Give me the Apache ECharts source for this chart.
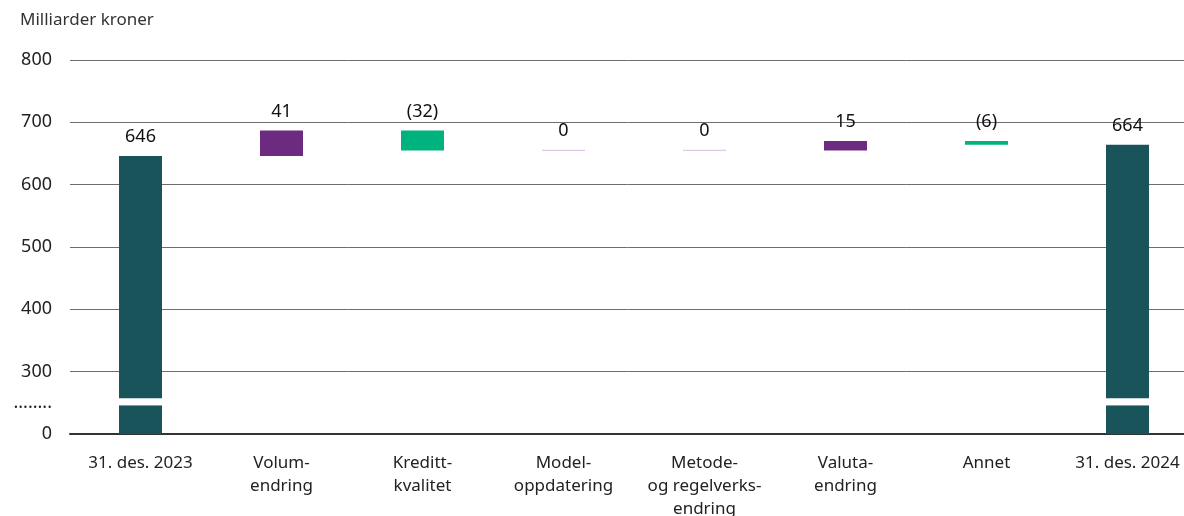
<!DOCTYPE html>
<html>
<head>
<meta charset="utf-8">
<script src="https://cdn.jsdelivr.net/npm/echarts@6/dist/echarts.min.js"></script>
<style>
  html, body { margin: 0; padding: 0; background: #fff; overflow: hidden; }
  #chart { width: 1184px; height: 516px; }
</style>
</head>
<body>
<div id="chart"></div>
<script>
// Waterfall: change in loan-loss basis (milliarder kroner)
const categories = [
  '31. des. 2023',
  'Volum-\nendring',
  'Kreditt-\nkvalitet',
  'Model-\noppdatering',
  'Metode-\nog regelverks-\nendring',
  'Valuta-\nendring',
  'Annet',
  '31. des. 2024'
];
const values = [646, 41, -32, 0, 0, 15, -6, 664];
const isTotal = [true, false, false, false, false, false, false, true];
const yTickValues = [0, 300, 400, 500, 600, 700, 800];

// Broken axis: 0..300 is compressed into one tick step, so values at or
// above 300 are shifted down by 200 on the plotted scale.
const BREAK_SHIFT = 200;
const toAxis = v => (v >= 300 ? v - BREAK_SHIFT : v * 100 / 300);
const fromAxis = a => (a === 0 ? 0 : a + BREAK_SHIFT);
const BREAK_LOW = 46;     // axis units where the white cut in total bars starts
const BREAK_GAP = 11.5;   // height of that cut

const COLORS = { total: '#19545b', up: '#6c2a80', down: '#00b27d', zero: '#dcc8e6' };

// Build stacked layers from the running total
const baseData = [], lowData = [], gapData = [], deltaData = [];
let running = 0;
values.forEach((v, i) => {
  if (isTotal[i]) {
    running = v;
    baseData.push(0);
    lowData.push(BREAK_LOW);
    gapData.push(BREAK_GAP);
    deltaData.push({ value: toAxis(v) - BREAK_LOW - BREAK_GAP, itemStyle: { color: COLORS.total } });
  } else {
    const start = running, end = running + v;
    running = end;
    baseData.push(toAxis(Math.min(start, end)));
    lowData.push(0);
    gapData.push(0);
    let style;
    if (v > 0) style = { color: COLORS.up };
    else if (v < 0) style = { color: COLORS.down };
    else style = { color: COLORS.zero, borderColor: COLORS.zero, borderWidth: 1 };
    deltaData.push({ value: toAxis(Math.max(start, end)) - toAxis(Math.min(start, end)), itemStyle: style });
  }
});

const fmtValue = v => (v < 0 ? '(' + Math.abs(v) + ')' : String(v));
const FONT = 'Noto Sans';

const chart = echarts.init(document.getElementById('chart'), null, { renderer: 'canvas' });
chart.setOption({
  animation: false,
  backgroundColor: '#fff',
  title: {
    text: 'Milliarder kroner',
    left: 15, top: 7,
    textStyle: { fontFamily: FONT, fontSize: 17, fontWeight: 'normal', color: '#333' }
  },
  // the last category band runs past the right edge of the canvas
  grid: { left: 70, top: 60, right: -14, height: 374, outerBoundsMode: 'none', containLabel: false },
  xAxis: {
    type: 'category',
    data: categories,
    axisTick: { show: false },
    axisLine: { lineStyle: { color: '#333', width: 2 } },
    axisLabel: {
      interval: 0, margin: 18,
      fontFamily: FONT, fontSize: 17, color: '#222', lineHeight: 23
    }
  },
  yAxis: {
    type: 'value',
    min: 0, max: 600, interval: 100,
    axisLine: { show: false },
    axisTick: { show: false },
    splitLine: { lineStyle: { color: '#6e6e6e', width: 1 } },
    axisLabel: {
      margin: 18,
      customValues: [0, 50].concat(yTickValues.slice(1).map(toAxis)),
      fontFamily: FONT, fontSize: 18, color: '#222',
      formatter: a => (a === 50 ? '........' : String(fromAxis(a)))
    }
  },
  series: [
    {
      name: 'base', type: 'bar', stack: 'wf', barWidth: 43,
      itemStyle: { color: 'transparent' }, silent: true,
      data: baseData
    },
    {
      name: 'low', type: 'bar', stack: 'wf', barWidth: 43,
      itemStyle: { color: COLORS.total }, silent: true,
      data: lowData
    },
    {
      name: 'cut', type: 'bar', stack: 'wf', barWidth: 43,
      itemStyle: { color: '#ffffff' }, silent: true,
      data: gapData
    },
    {
      name: 'delta', type: 'bar', stack: 'wf', barWidth: 43,
      data: deltaData,
      label: {
        show: true, position: 'top', distance: 10,
        fontFamily: FONT, fontSize: 18, color: '#111',
        formatter: p => fmtValue(values[p.dataIndex])
      }
    }
  ]
});
</script>
</body>
</html>
